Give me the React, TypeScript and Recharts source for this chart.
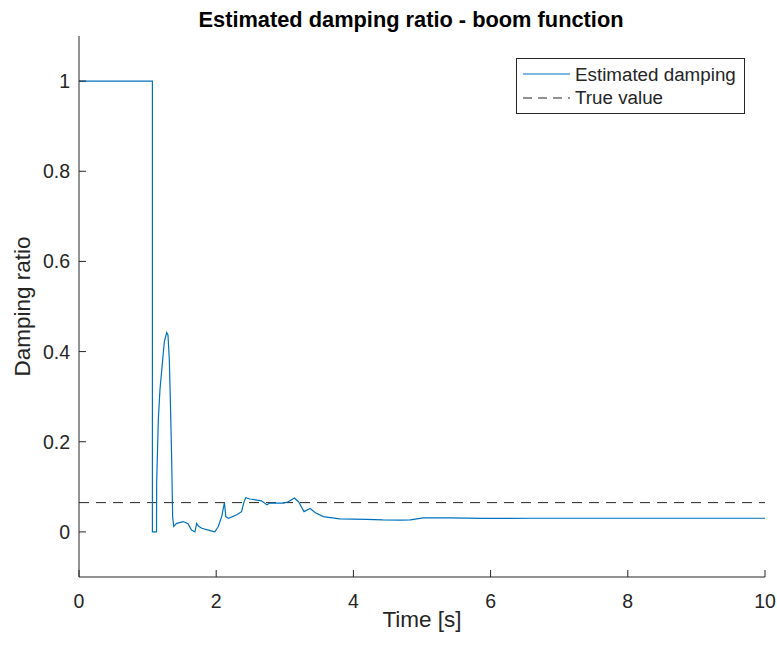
import React from 'react';
import { LineChart, Line, XAxis, YAxis, Legend } from 'recharts';

const time = [0, 1.07, 1.07, 1.13, 1.132, 1.156, 1.18, 1.215, 1.244, 1.278, 1.297, 1.317, 1.336, 1.351, 1.365, 1.38, 1.424, 1.52, 1.59, 1.64, 1.69, 1.715, 1.74, 1.79, 1.91, 1.98, 2.03, 2.08, 2.12, 2.14, 2.18, 2.30, 2.37, 2.40, 2.43, 2.49, 2.66, 2.74, 2.78, 2.98, 3.05, 3.14, 3.20, 3.28, 3.37, 3.44, 3.56, 3.80, 4.19, 4.43, 4.68, 4.83, 5.02, 5.41, 5.89, 6.6, 8, 10];
const damping = [1, 1, 0, 0, 0.108, 0.248, 0.315, 0.374, 0.422, 0.442, 0.437, 0.381, 0.263, 0.160, 0.034, 0.012, 0.019, 0.023, 0.018, 0.004, 0, 0.019, 0.013, 0.008, 0.003, 0, 0.012, 0.034, 0.065, 0.034, 0.030, 0.038, 0.045, 0.064, 0.076, 0.073, 0.069, 0.060, 0.064, 0.064, 0.067, 0.075, 0.067, 0.045, 0.052, 0.043, 0.034, 0.029, 0.028, 0.0266, 0.026, 0.0266, 0.031, 0.031, 0.030, 0.0303, 0.0303, 0.0303];
const trueTime = [0, 10];
const trueValue = 0.065;
const xTicks = [0, 2, 4, 6, 8, 10];
const yTicks = [0, 0.2, 0.4, 0.6, 0.8, 1];

const estData = time.map((t, i) => ({ t, v: damping[i] }));
const trueData = trueTime.map((t) => ({ t, v: trueValue }));

const FONT = 'Liberation Sans, Arial, Helvetica, sans-serif';
const INK = '#262626';
const BLUE = '#0072BD';

const XTick = (props: any) => {
  const { x, y, payload } = props;
  return (
    <g>
      <line x1={x} y1={y} x2={x} y2={y - 7} stroke={INK} strokeWidth={1} />
      <text x={x} y={y + 31} textAnchor="middle" fontFamily={FONT} fontSize={19.5} fill={INK}>
        {String(payload.value)}
      </text>
    </g>
  );
};

const YTick = (props: any) => {
  const { x, y, payload } = props;
  return (
    <g>
      <line x1={x} y1={y} x2={x + 7} y2={y} stroke={INK} strokeWidth={1} />
      <text x={x - 9} y={y + 7} textAnchor="end" fontFamily={FONT} fontSize={19.5} fill={INK}>
        {String(payload.value)}
      </text>
    </g>
  );
};

const LegendBox = () => (
  <svg width={230} height={57} style={{ display: 'block' }}>
    <rect x={0.5} y={0.5} width={228} height={55} fill="#fff" stroke={INK} strokeWidth={1} />
    <line x1={7} y1={16} x2={54} y2={16} stroke={BLUE} strokeWidth={1.2} />
    <text x={59} y={23} fontFamily={FONT} fontSize={18.8} fill={INK}>Estimated damping</text>
    <line x1={7} y1={40} x2={54} y2={40} stroke={INK} strokeWidth={1} strokeDasharray="9 6" />
    <text x={59} y={46} fontFamily={FONT} fontSize={18.8} fill={INK}>True value</text>
  </svg>
);

export default function App() {
  return (
    <div style={{ position: 'absolute', left: 0, top: 0, width: 777, height: 646, background: '#fff' }}>
      <LineChart width={777} height={646} margin={{ top: 36, right: 12, bottom: 0, left: 0 }}>
        <XAxis
          dataKey="t"
          type="number"
          domain={[0, 10]}
          ticks={xTicks}
          allowDuplicatedCategory={false}
          height={69}
          tickSize={0}
          tickMargin={0}
          tickLine={false}
          axisLine={{ stroke: INK, strokeWidth: 1 }}
          tick={<XTick />}
          label={{
            content: (p: any) => {
              const vb = p.viewBox;
              return (
                <text x={vb.x + vb.width / 2} y={vb.y + 50} textAnchor="middle" fontFamily={FONT} fontSize={22.5} fill={INK}>
                  Time [s]
                </text>
              );
            },
          }}
        />
        <YAxis
          type="number"
          domain={[-0.1, 1.1]}
          ticks={yTicks}
          width={79}
          tickSize={0}
          tickMargin={0}
          tickLine={false}
          axisLine={{ stroke: INK, strokeWidth: 1 }}
          tick={<YTick />}
          label={{
            content: (p: any) => {
              const vb = p.viewBox;
              const cx = vb.x + 30;
              const cy = vb.y + vb.height / 2;
              return (
                <text x={cx} y={cy} textAnchor="middle" transform={`rotate(-90, ${cx}, ${cy})`} fontFamily={FONT} fontSize={22.5} fill={INK}>
                  Damping ratio
                </text>
              );
            },
          }}
        />
        <Line
          data={trueData}
          dataKey="v"
          type="linear"
          stroke={INK}
          strokeWidth={1}
          strokeDasharray="10 7"
          dot={false}
          activeDot={false}
          isAnimationActive={false}
        />
        <Line
          data={estData}
          dataKey="v"
          type="linear"
          stroke={BLUE}
          strokeWidth={1.2}
          dot={false}
          activeDot={false}
          isAnimationActive={false}
        />
        <Legend
          layout="vertical"
          align="center"
          verticalAlign="middle"
          content={<LegendBox />}
          wrapperStyle={{ position: 'absolute', left: 516, top: 58, width: 230, height: 57 }}
        />
        <text x={411} y={27} textAnchor="middle" fontFamily={FONT} fontSize={21.8} fontWeight="bold" fill="#000">
          Estimated damping ratio - boom function
        </text>
      </LineChart>
    </div>
  );
}
